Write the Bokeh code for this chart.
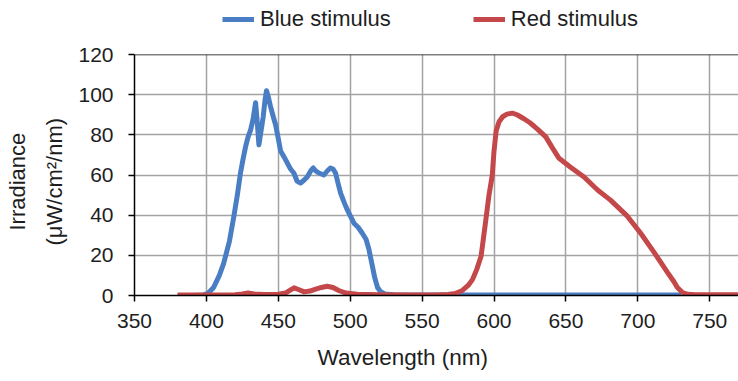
from bokeh.plotting import figure
from bokeh.layouts import column
from bokeh.models import (ColumnDataSource, FixedTicker, Legend, LegendItem,
                          Title, Span, Range1d)
from bokeh.embed import file_html
from bokeh.resources import INLINE

# ---- data ----
blue_wl = [380, 390, 398, 401, 405, 409, 412, 416, 419, 421.5, 423.7, 425.5, 427.2,
           429, 430.7, 432.5, 434.2, 435.5, 436.5, 438, 439.5, 440.7, 441.8, 443,
           444.6, 446.5, 448.1, 450, 451.6, 454, 456.2, 458.5, 460.8, 463, 465.5,
           468, 470.1, 472.5, 474.3, 476, 478.2, 480, 481.7, 484, 486.3, 488, 489.8,
           491.5, 493.3, 496, 498, 500.5, 502.6, 505.5, 508.4, 511, 513, 515, 517,
           519, 521, 524, 530, 560, 600, 650, 700, 730]
blue_val = [0, 0, 0.3, 1, 4, 10, 16, 27, 39, 50, 61, 68, 74,
            79, 82.3, 88, 96, 85, 75, 82, 89, 97, 102, 99,
            94, 89, 85, 78, 72, 69, 66, 63, 61, 57, 56,
            57.5, 59, 62, 63.5, 62, 61, 60.5, 60, 62, 63.5, 63, 61,
            56, 51, 46, 42.6, 39, 36, 34, 31, 28, 23, 16, 9,
            4, 2, 0.8, 0.4, 0.3, 0.3, 0.3, 0.3, 0.3]

red_wl = [380, 400, 420, 425, 429, 433, 440, 450, 455, 458, 461, 464, 468, 472, 476,
          480, 484, 488, 492, 497, 505, 520, 540, 560, 568, 573, 578, 582, 585, 588,
          591, 594, 596.5, 598.8, 600, 601.5, 603.5, 606, 609, 612.7, 616, 620.8, 625,
          630, 636, 640.6, 645, 653, 662.6, 672, 681, 692.7, 702, 711.3, 720.6, 725,
          727.5, 731, 734.5, 740, 760, 770]
red_val = [0.3, 0.3, 0.4, 0.8, 1.3, 0.8, 0.5, 0.6, 1.2, 2.5, 3.8, 3, 1.8, 2.2, 3.2,
           4, 4.6, 4, 2.5, 1.2, 0.6, 0.4, 0.3, 0.3, 0.5, 1, 2.5, 5, 7.9, 13,
           19.5, 36, 50, 60, 72, 82, 86.5, 89, 90.3, 90.8, 90, 88, 86,
           83, 79, 73.5, 68.5, 64, 59, 52.5, 47.5, 39.5, 31, 21.5, 11.5, 7,
           4, 1.5, 0.6, 0.4, 0.4, 0.4]

x_ticks = [350, 400, 450, 500, 550, 600, 650, 700, 750]
y_ticks = [0, 20, 40, 60, 80, 100, 120]
series_names = ["Blue stimulus", "Red stimulus"]
x_title = "Wavelength (nm)"
y_title_1 = "Irradiance"
y_title_2 = "(\u03bcW/cm\u00b2/nm)"

BLUE = "#4a7ec4"
RED = "#c4474a"
FONT = "Liberation Sans"
TXT = "#1e1e1e"

src_b = ColumnDataSource(dict(x=blue_wl, y=blue_val))
src_r = ColumnDataSource(dict(x=red_wl, y=red_val))

# ---- legend strip (separate figure above the chart; its range hides the lines) ----
lg = figure(width=738, height=40, output_backend="svg", toolbar_location=None,
            x_range=Range1d(0, 1), y_range=Range1d(-2, -1),
            min_border=0, min_border_left=0, min_border_right=0,
            min_border_top=0, min_border_bottom=0)
lg.axis.visible = False
lg.grid.visible = False
lg.outline_line_color = None
lb = lg.line("x", "y", source=src_b, line_color=BLUE, line_width=5)
lr = lg.line("x", "y", source=src_r, line_color=RED, line_width=5)
legend = Legend(items=[LegendItem(label=series_names[0], renderers=[lb]),
                       LegendItem(label=series_names[1], renderers=[lr])],
                orientation="horizontal", location=(88, 8),
                glyph_width=32, glyph_height=22, label_standoff=6, spacing=82,
                label_text_font=FONT, label_text_font_size="22px",
                label_text_color=TXT, border_line_color=None,
                background_fill_alpha=0, padding=0, margin=0)
lg.add_layout(legend)

# ---- main chart ----
p = figure(width=738, height=341, output_backend="svg", toolbar_location=None,
           x_range=Range1d(350, 770), y_range=Range1d(0, 120),
           min_border_left=134, min_border_right=0, min_border_top=14,
           min_border_bottom=85)
p.outline_line_color = None
p.background_fill_color = "white"
p.border_fill_color = "white"

for ax, ticks in ((p.xaxis[0], x_ticks), (p.yaxis[0], y_ticks)):
    ax.ticker = FixedTicker(ticks=ticks)
    ax.axis_line_color = "black"
    ax.axis_line_width = 1.5
    ax.major_tick_line_color = "black"
    ax.major_tick_line_width = 1.5
    ax.major_tick_in = 0
    ax.major_tick_out = 6
    ax.minor_tick_line_color = None
    ax.major_label_text_font = FONT
    ax.major_label_text_font_size = "21px"
    ax.major_label_text_color = TXT
p.xaxis.major_label_standoff = 12
p.yaxis.major_label_standoff = 15

p.xgrid.ticker = FixedTicker(ticks=x_ticks[1:])
p.ygrid.ticker = FixedTicker(ticks=y_ticks[1:-1])
p.xgrid.grid_line_color = "#a3a3a3"
p.ygrid.grid_line_color = "#a3a3a3"
p.xgrid.grid_line_width = 1.5
p.ygrid.grid_line_width = 1.5

p.add_layout(Span(location=120, dimension="width", line_color="black", line_width=1.5))

p.line("x", "y", source=src_b, line_color=BLUE, line_width=5, line_join="round")
p.line("x", "y", source=src_r, line_color=RED, line_width=5, line_join="round")

p.add_layout(Title(text=y_title_2, align="left", offset=50, text_font=FONT,
                   text_font_size="22px", text_font_style="normal",
                   text_color=TXT, standoff=18), "left")
p.add_layout(Title(text=y_title_1, align="left", offset=65, text_font=FONT,
                   text_font_size="22px", text_font_style="normal",
                   text_color=TXT, standoff=2), "left")
p.add_layout(Title(text=x_title, align="left", offset=183, text_font=FONT,
                   text_font_size="22.5px", text_font_style="normal",
                   text_color=TXT, standoff=24), "below")

layout = column(lg, p, spacing=0)
open("out.html", "w").write(file_html(layout, INLINE))
